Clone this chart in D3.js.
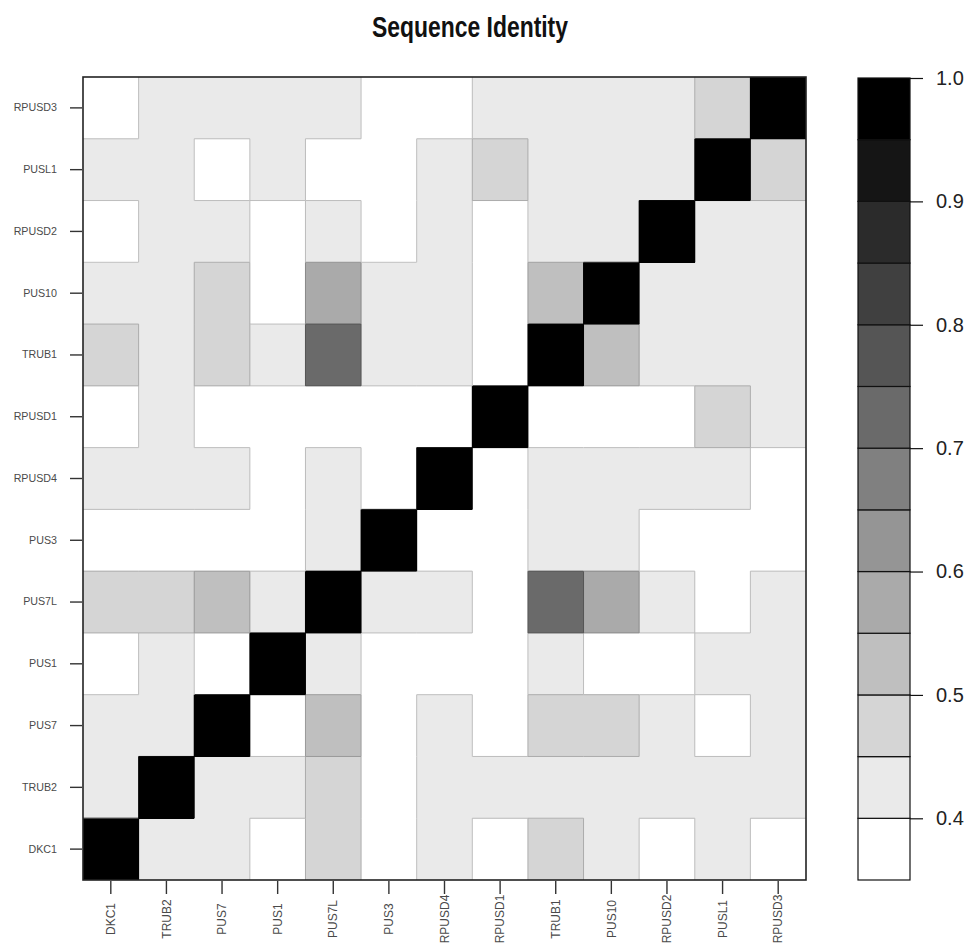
<!DOCTYPE html>
<html>
<head>
<meta charset="utf-8">
<script src="https://cdn.jsdelivr.net/npm/d3@7/dist/d3.min.js"></script>
<style>
  body { margin: 0; background: #fff; }
  svg { display: block; }
</style>
</head>
<body>
<div id="viz"></div>
<script>
// genes, in the order of the columns (left to right) and rows (bottom to top)
var genes = ['DKC1', 'TRUB2', 'PUS7', 'PUS1', 'PUS7L', 'PUS3', 'RPUSD4',
  'RPUSD1', 'TRUB1', 'PUS10', 'RPUSD2', 'PUSL1', 'RPUSD3'];

// identity values, one row per gene, listed from the top row down
var row_RPUSD3 = [0.37, 0.42, 0.42, 0.42, 0.42, 0.37, 0.37, 0.42, 0.42, 0.42, 0.42, 0.47, 1.00];
var row_PUSL1  = [0.42, 0.42, 0.37, 0.42, 0.37, 0.37, 0.42, 0.47, 0.42, 0.42, 0.42, 1.00, 0.47];
var row_RPUSD2 = [0.37, 0.42, 0.42, 0.37, 0.42, 0.37, 0.42, 0.37, 0.42, 0.42, 1.00, 0.42, 0.42];
var row_PUS10  = [0.42, 0.42, 0.47, 0.37, 0.57, 0.42, 0.42, 0.37, 0.52, 1.00, 0.42, 0.42, 0.42];
var row_TRUB1  = [0.47, 0.42, 0.47, 0.42, 0.72, 0.42, 0.42, 0.37, 1.00, 0.52, 0.42, 0.42, 0.42];
var row_RPUSD1 = [0.37, 0.42, 0.37, 0.37, 0.37, 0.37, 0.37, 1.00, 0.37, 0.37, 0.37, 0.47, 0.42];
var row_RPUSD4 = [0.42, 0.42, 0.42, 0.37, 0.42, 0.37, 1.00, 0.37, 0.42, 0.42, 0.42, 0.42, 0.37];
var row_PUS3   = [0.37, 0.37, 0.37, 0.37, 0.42, 1.00, 0.37, 0.37, 0.42, 0.42, 0.37, 0.37, 0.37];
var row_PUS7L  = [0.47, 0.47, 0.52, 0.42, 1.00, 0.42, 0.42, 0.37, 0.72, 0.57, 0.42, 0.37, 0.42];
var row_PUS1   = [0.37, 0.42, 0.37, 1.00, 0.42, 0.37, 0.37, 0.37, 0.42, 0.37, 0.37, 0.42, 0.42];
var row_PUS7   = [0.42, 0.42, 1.00, 0.37, 0.52, 0.37, 0.42, 0.37, 0.47, 0.47, 0.42, 0.37, 0.42];
var row_TRUB2  = [0.42, 1.00, 0.42, 0.42, 0.47, 0.37, 0.42, 0.42, 0.42, 0.42, 0.42, 0.42, 0.42];
var row_DKC1   = [1.00, 0.42, 0.42, 0.37, 0.47, 0.37, 0.42, 0.37, 0.47, 0.42, 0.37, 0.42, 0.37];

var rows = {
  RPUSD3: row_RPUSD3, PUSL1: row_PUSL1, RPUSD2: row_RPUSD2, PUS10: row_PUS10,
  TRUB1: row_TRUB1, RPUSD1: row_RPUSD1, RPUSD4: row_RPUSD4, PUS3: row_PUS3,
  PUS7L: row_PUS7L, PUS1: row_PUS1, PUS7: row_PUS7, TRUB2: row_TRUB2, DKC1: row_DKC1
};

// colour key
var breaks = [0.35, 0.40, 0.45, 0.50, 0.55, 0.60, 0.65, 0.70, 0.75, 0.80, 0.85, 0.90, 0.95, 1.00];
var key_ticks = [0.4, 0.5, 0.6, 0.7, 0.8, 0.9, 1.0];

var title = 'Sequence Identity';

var width = 971, height = 951;
var margin = {left: 83, top: 77, right: 806, bottom: 880};

var svg = d3.select('#viz')
  .append('svg')
  .attr('width', width)
  .attr('height', height);

svg.append('rect')
  .attr('width', width)
  .attr('height', height)
  .attr('fill', 'white');

// 13 grey levels from white to black
var greys = d3.range(breaks.length - 1).map(function(i) {
  var g = Math.round(255 - i * 255 / (breaks.length - 2));
  return d3.rgb(g, g, g).formatHex();
});
var color = d3.scaleThreshold()
  .domain(breaks.slice(1, -1))
  .range(greys);

var x = d3.scaleBand()
  .domain(genes)
  .range([margin.left, margin.right]);

var y = d3.scaleBand()
  .domain(genes)
  .range([margin.bottom, margin.top]);

var cells = [];
genes.forEach(function(rg) {
  rows[rg].forEach(function(v, j) {
    cells.push({row: rg, col: genes[j], value: v});
  });
});

var cell_group = svg.append('g').attr('class', 'cells');

cell_group.selectAll('rect')
  .data(cells)
  .enter()
  .append('rect')
  .attr('x', function(d) { return x(d.col); })
  .attr('y', function(d) { return y(d.row); })
  .attr('width', x.bandwidth() + 0.3)
  .attr('height', y.bandwidth() + 0.3)
  .attr('fill', function(d) { return color(d.value); })
  .attr('shape-rendering', 'crispEdges');

// thin edges where neighbouring cells change colour
function edge_color(a, b) {
  var ga = d3.rgb(color(a)).r, gb = d3.rgb(color(b)).r;
  var g = Math.min(ga, gb);
  return d3.rgb(g, g, g).darker(0.6).formatHex();
}

var edges = [];
genes.forEach(function(rg, ri) {
  var vals = rows[rg];
  vals.forEach(function(v, j) {
    if (j < vals.length - 1 && color(v) !== color(vals[j + 1])) {
      edges.push({x1: x(genes[j + 1]), x2: x(genes[j + 1]),
        y1: y(rg), y2: y(rg) + y.bandwidth(), c: edge_color(v, vals[j + 1])});
    }
    if (ri < genes.length - 1) {
      var above = rows[genes[ri + 1]][j];
      if (color(v) !== color(above)) {
        edges.push({x1: x(genes[j]), x2: x(genes[j]) + x.bandwidth(),
          y1: y(rg), y2: y(rg), c: edge_color(v, above)});
      }
    }
  });
});

cell_group.selectAll('line')
  .data(edges)
  .enter()
  .append('line')
  .attr('x1', function(d) { return d.x1; })
  .attr('x2', function(d) { return d.x2; })
  .attr('y1', function(d) { return d.y1; })
  .attr('y2', function(d) { return d.y2; })
  .attr('stroke', function(d) { return d.c; })
  .attr('stroke-width', 1);

// frame
svg.append('rect')
  .attr('x', margin.left)
  .attr('y', margin.top)
  .attr('width', margin.right - margin.left)
  .attr('height', margin.bottom - margin.top)
  .attr('fill', 'none')
  .attr('stroke', '#222')
  .attr('stroke-width', 1.6);

// row axis
var y_axis = svg.append('g')
  .attr('transform', 'translate(' + (margin.left - 1) + ',0)')
  .call(d3.axisLeft(y).tickSize(12).tickPadding(13));
y_axis.select('.domain').remove();
y_axis.selectAll('line').attr('stroke', '#333').attr('stroke-width', 1.4);
y_axis.selectAll('text')
  .attr('fill', '#4a4a4a')
  .style('font-family', 'Liberation Sans, Arial, sans-serif')
  .style('font-size', '10.7px');

// column axis, labels centred below the ticks
var x_axis = svg.append('g')
  .attr('transform', 'translate(0,' + (margin.bottom + 1) + ')')
  .call(d3.axisBottom(x).tickSize(13).tickPadding(6));
x_axis.select('.domain').remove();
x_axis.selectAll('line').attr('stroke', '#333').attr('stroke-width', 1.4);
x_axis.selectAll('text')
  .attr('fill', '#4a4a4a')
  .style('font-family', 'Liberation Sans, Arial, sans-serif')
  .style('font-size', '12px')
  .attr('text-anchor', 'middle')
  .attr('dy', '0.35em')
  .attr('transform', 'translate(0,38) rotate(-90)')
  .attr('x', 0)
  .attr('y', 0);

// title, squeezed to a condensed width
var title_text = svg.append('text')
  .attr('text-anchor', 'middle')
  .style('font-family', 'Liberation Sans Narrow, Arial Narrow, Liberation Sans, sans-serif')
  .style('font-weight', 'bold')
  .style('font-size', '29px')
  .attr('fill', '#111')
  .text(title);
var tw = title_text.node().getComputedTextLength();
var sx = Math.min(1, 196 / tw);
title_text.attr('transform', 'translate(470,37) scale(' + sx + ',1)');

// colour key
var key_x = 858, key_w = 52;
var ky = d3.scaleLinear()
  .domain([breaks[0], breaks[breaks.length - 1]])
  .range([margin.bottom, margin.top + 1]);

var key = svg.append('g').attr('class', 'key');
key.selectAll('rect')
  .data(d3.range(breaks.length - 1))
  .enter()
  .append('rect')
  .attr('x', key_x)
  .attr('y', function(i) { return ky(breaks[i + 1]); })
  .attr('width', key_w)
  .attr('height', function(i) { return ky(breaks[i]) - ky(breaks[i + 1]); })
  .attr('fill', function(i) { return greys[i]; })
  .attr('stroke', '#111')
  .attr('stroke-width', 1.2);

var key_axis = key.append('g')
  .attr('transform', 'translate(' + (key_x + key_w) + ',0)')
  .call(d3.axisRight(ky).tickValues(key_ticks).tickFormat(d3.format('.1f'))
    .tickSize(13).tickPadding(13));
key_axis.select('.domain').remove();
key_axis.selectAll('line').attr('stroke', '#111').attr('stroke-width', 1.2);
key_axis.selectAll('text')
  .attr('fill', '#222')
  .style('font-family', 'Liberation Sans, Arial, sans-serif')
  .style('font-size', '20px');
</script>
</body>
</html>
